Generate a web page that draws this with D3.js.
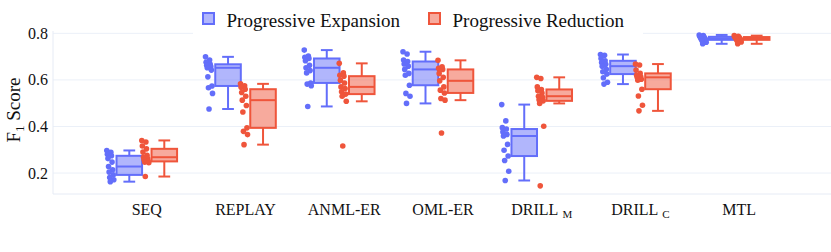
<!DOCTYPE html>
<html>
<head>
<meta charset="utf-8">
<script src="https://cdn.jsdelivr.net/npm/d3@7"></script>
<style>
    body { margin: 0; background: #fff; }
    text { font-family: "Liberation Serif", "Times New Roman", serif; fill: #111; }
</style>
</head>
<body>
<div id="wrapper"></div>
<script>
const categories = ["SEQ", "REPLAY", "ANML-ER", "OML-ER", "DRILL_M", "DRILL_C", "MTL"]
const seriesNames = ["Progressive Expansion", "Progressive Reduction"]
const yTicks = [0.2, 0.4, 0.6, 0.8]

// F1 scores per run, one list per category
const expansion = [
    [0.297, 0.289, 0.281, 0.274, 0.262, 0.247, 0.228, 0.214, 0.204, 0.192, 0.181, 0.171, 0.163],
    [0.699, 0.685, 0.676, 0.667, 0.663, 0.657, 0.652, 0.642, 0.613, 0.574, 0.566, 0.542, 0.475],
    [0.728, 0.702, 0.697, 0.692, 0.682, 0.663, 0.652, 0.640, 0.630, 0.587, 0.582, 0.575, 0.486],
    [0.721, 0.711, 0.685, 0.679, 0.668, 0.659, 0.645, 0.628, 0.620, 0.577, 0.542, 0.530, 0.499],
    [0.494, 0.424, 0.395, 0.389, 0.376, 0.366, 0.359, 0.323, 0.298, 0.273, 0.254, 0.208, 0.168],
    [0.709, 0.706, 0.692, 0.682, 0.675, 0.667, 0.659, 0.646, 0.635, 0.625, 0.609, 0.590, 0.582],
    [0.793, 0.790, 0.787, 0.785, 0.783, 0.780, 0.778, 0.776, 0.774, 0.772, 0.768, 0.762, 0.755]
]
const reduction = [
    [0.340, 0.333, 0.316, 0.304, 0.290, 0.276, 0.268, 0.262, 0.257, 0.250, 0.247, 0.244, 0.185],
    [0.583, 0.575, 0.568, 0.560, 0.546, 0.530, 0.513, 0.490, 0.462, 0.394, 0.379, 0.365, 0.322],
    [0.671, 0.630, 0.620, 0.616, 0.598, 0.587, 0.570, 0.563, 0.549, 0.539, 0.530, 0.508, 0.316],
    [0.684, 0.656, 0.650, 0.645, 0.628, 0.611, 0.596, 0.570, 0.556, 0.544, 0.520, 0.513, 0.372],
    [0.611, 0.606, 0.570, 0.559, 0.553, 0.544, 0.530, 0.525, 0.515, 0.510, 0.499, 0.401, 0.145],
    [0.668, 0.664, 0.642, 0.628, 0.620, 0.613, 0.611, 0.603, 0.599, 0.560, 0.531, 0.491, 0.467],
    [0.790, 0.787, 0.785, 0.784, 0.782, 0.780, 0.778, 0.776, 0.774, 0.772, 0.768, 0.763, 0.755]
]

const colors = ["#636efa", "#ef553b"]
const fills = ["rgba(99,110,250,0.5)", "rgba(239,85,59,0.5)"]

function boxStats(values) {
    let v = values.slice().sort(d3.ascending)
    let q1 = d3.quantile(v, 0.25), med = d3.quantile(v, 0.5), q3 = d3.quantile(v, 0.75)
    let iqr = q3 - q1
    let lo = d3.min(v.filter(d => d >= q1 - 1.5 * iqr))
    let hi = d3.max(v.filter(d => d <= q3 + 1.5 * iqr))
    return {q1, med, q3, lo, hi}
}

function drawChart() {
    const width = 831, height = 252
    const left = 53, right = 831, top = 31, bottom = 194

    const svg = d3.select("#wrapper").append("svg")
        .attr("width", width)
        .attr("height", height)

    const x = d3.scalePoint().domain(categories).range([left, 833]).padding(0.95)
    const xg = d3.scaleBand().domain(seriesNames).range([-35, 35])
    const y = d3.scaleLinear().domain([0.11, 0.81]).range([bottom, top])
    const boxW = xg.bandwidth() * 0.73

    // grid
    svg.append("g").selectAll("line").data(yTicks).enter().append("line")
        .attr("x1", left).attr("x2", right)
        .attr("y1", d => y(d)).attr("y2", d => y(d))
        .attr("stroke", "#ebf0f8").attr("stroke-width", 1)
    svg.append("line").attr("x1", left).attr("x2", left).attr("y1", top).attr("y2", bottom)
        .attr("stroke", "#e6ebf5")
    svg.append("line").attr("x1", left).attr("x2", right).attr("y1", bottom).attr("y2", bottom)
        .attr("stroke", "#e6ebf5")

    // y axis labels
    svg.append("g").selectAll("text").data(yTicks).enter().append("text")
        .attr("x", 48).attr("y", d => y(d) + 5.5)
        .attr("text-anchor", "end")
        .style("font-size", "16px")
        .text(d => d.toFixed(1))

    const yt = svg.append("text")
        .attr("transform", "translate(20," + 110 + ") rotate(-90)")
        .attr("text-anchor", "middle")
        .style("font-size", "19px")
    yt.append("tspan").text("F")
    yt.append("tspan").attr("dy", 4).style("font-size", "13px").text("1")
    yt.append("tspan").attr("dy", -4).text(" Score")

    // x labels
    categories.forEach(function(c) {
        let parts = c.split("_")
        let t = svg.append("text")
            .attr("x", x(c)).attr("y", 215)
            .attr("text-anchor", "middle")
            .style("font-size", "16px")
        t.append("tspan").text(parts[0])
        if (parts[1]) {
            t.append("tspan").attr("dx", 4).attr("dy", 3).style("font-size", "11px").text(parts[1])
        }
    })

    // boxes + points
    const allData = [expansion, reduction]
    allData.forEach(function(series, s) {
        series.forEach(function(values, ci) {
            let cx = x(categories[ci]) + xg(seriesNames[s]) + xg.bandwidth() / 2
            let st = boxStats(values)
            let g = svg.append("g")
            g.append("line")
                .attr("x1", cx).attr("x2", cx).attr("y1", y(st.hi)).attr("y2", y(st.q3))
                .attr("stroke", colors[s]).attr("stroke-width", 2)
            g.append("line")
                .attr("x1", cx).attr("x2", cx).attr("y1", y(st.q1)).attr("y2", y(st.lo))
                .attr("stroke", colors[s]).attr("stroke-width", 2)
            g.selectAll(".cap").data([st.hi, st.lo]).enter().append("line")
                .attr("x1", cx - boxW * 0.23).attr("x2", cx + boxW * 0.23)
                .attr("y1", d => y(d)).attr("y2", d => y(d))
                .attr("stroke", colors[s]).attr("stroke-width", 2)
            g.append("rect")
                .attr("x", cx - boxW / 2).attr("width", boxW)
                .attr("y", y(st.q3)).attr("height", y(st.q1) - y(st.q3))
                .attr("fill", fills[s]).attr("stroke", colors[s]).attr("stroke-width", 2)
            g.append("line")
                .attr("x1", cx - boxW / 2).attr("x2", cx + boxW / 2)
                .attr("y1", y(st.med)).attr("y2", y(st.med))
                .attr("stroke", colors[s]).attr("stroke-width", 2)

            let px = cx - 19
            g.selectAll("circle").data(values).enter().append("circle")
                .attr("cx", (d, i) => px + (((i * 7) % 13) / 12 - 0.5) * 7)
                .attr("cy", d => y(d))
                .attr("r", 2.8)
                .attr("fill", colors[s])
        })
    })

    // legend
    svg.append("rect").attr("x", 193).attr("y", 0).attr("width", 450).attr("height", 37)
        .attr("fill", "#fff")
    const legX = [203, 429]
    seriesNames.forEach(function(name, s) {
        svg.append("rect")
            .attr("x", legX[s]).attr("y", 13).attr("width", 11).attr("height", 11)
            .attr("fill", fills[s]).attr("stroke", colors[s]).attr("stroke-width", 2)
        svg.append("text")
            .attr("x", legX[s] + 23.5).attr("y", 27)
            .style("font-size", "19px")
            .text(name)
    })
}
drawChart()
</script>
</body>
</html>
